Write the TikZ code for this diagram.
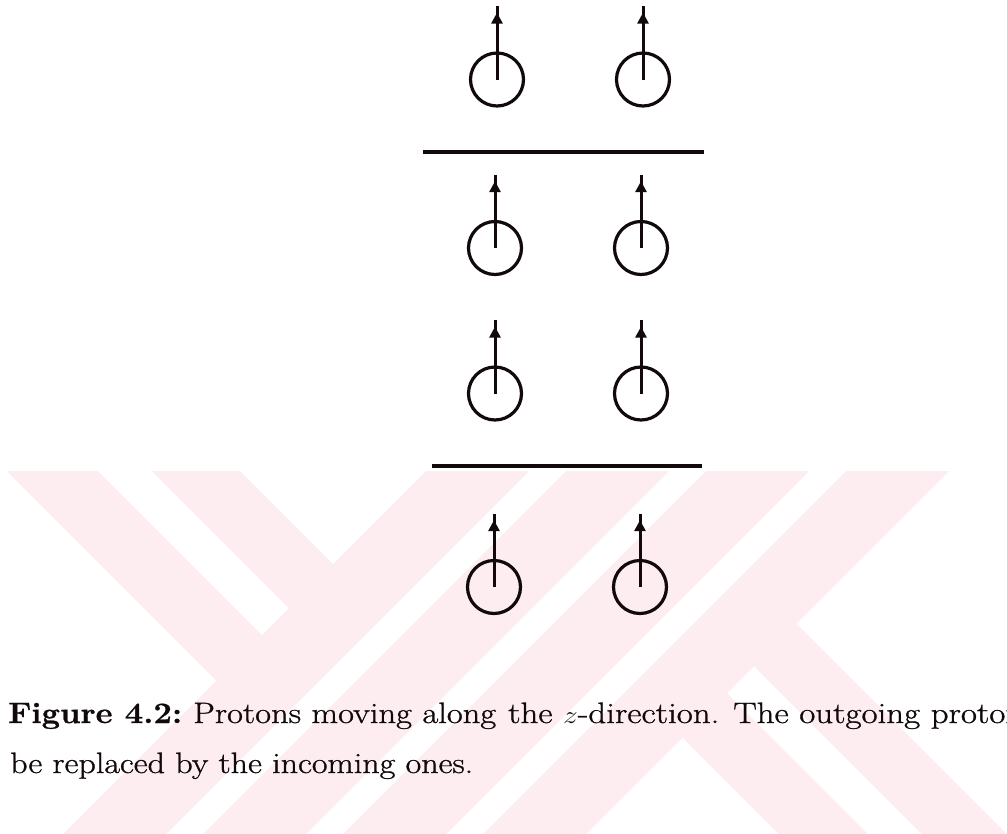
\documentclass[tikz,border=0pt]{standalone}
\usepackage{fontspec}
\setmainfont{Latin Modern Roman}[FakeBold=0.9]
\usetikzlibrary{arrows.meta,decorations.markings}
\definecolor{wmpink}{RGB}{253,237,241}
\definecolor{ink}{RGB}{18,10,10}
\tikzset{
  proton/.style={circle,draw=ink,line width=3.2pt,minimum size=53pt,inner sep=0pt},
  spin/.style={draw=ink,line width=3pt,postaction={decorate},
    decoration={markings,mark=at position 0.91 with {\arrow{Triangle[length=11pt,width=11pt]}}}},
  divider/.style={draw=ink,line width=3.6pt},
  wmband/.style={fill=wmpink},
  captext/.style={anchor=base west,inner sep=0pt,font=\fontsize{29.5}{35}\selectfont,text=ink}
}
\begin{document}
\begin{tikzpicture}[x=1pt,y=-1pt,color=ink]
\useasboundingbox (0,0) rectangle (1007,833);
\fill[white] (0,0) rectangle (1007,833);

% background emblem bands, visible below the figure area only
\begin{scope}
  \clip (0,471.5) rectangle (1007,833);
  % rising bands
  \fill[wmband] (497,400) -- (600,400) -- (100,900) -- (-3,900) -- cycle;
  \fill[wmband] (637,400) -- (740,400) -- (240,900) -- (137,900) -- cycle;
  \fill[wmband] (777,400) -- (880,400) -- (380,900) -- (277,900) -- cycle;
  \fill[wmband] (917,400) -- (1020,400) -- (520,900) -- (417,900) -- cycle;
  % falling bands, upper left
  \fill[wmband] (-64,400) -- (27,400) -- (262,635) -- (216.5,680.5) -- cycle;
  \fill[wmband] (81,400) -- (169,400) -- (333,564) -- (289,608) -- cycle;
  % falling bands, lower right
  \fill[wmband] (682.5,737.5) -- (727,693) -- (934,900) -- (845,900) -- cycle;
  \fill[wmband] (754,666) -- (796.5,623.5) -- (1073,900) -- (988,900) -- cycle;
\end{scope}

% protons, four rows of two
\node[proton] (a1) at (497,79.5) {};
\node[proton] (b1) at (643,79.5) {};
\node[proton] (a2) at (495,248) {};
\node[proton] (b2) at (641,248) {};
\node[proton] (a3) at (495,393.5) {};
\node[proton] (b3) at (641,393.5) {};
\node[proton] (a4) at (494,587) {};
\node[proton] (b4) at (640,587) {};

% spin tips
\coordinate (ta1) at (497,6);
\coordinate (tb1) at (643,6);
\coordinate (ta2) at (495,174.5);
\coordinate (tb2) at (641,174.5);
\coordinate (ta3) at (495,320);
\coordinate (tb3) at (641,320);
\coordinate (ta4) at (494,513.5);
\coordinate (tb4) at (640,513.5);

\foreach \r in {1,2,3,4}{
  \draw[spin] (a\r.center) -- (ta\r);
  \draw[spin] (b\r.center) -- (tb\r);
}

% dividing lines
\coordinate (l1w) at (423,152);
\coordinate (l1e) at (704,152);
\coordinate (l2w) at (432,466);
\coordinate (l2e) at (702,466);
\draw[divider] (l1w) -- (l1e);
\draw[divider] (l2w) -- (l2e);

% caption
\begin{scope}
  \clip (0,0) rectangle (1007,833);
  \node[captext] (capl) at (8,723) {\resizebox{174pt}{\height}{\textbf{Figure 4.2:}}};
  \node[captext] (capa) at (193,723) {\resizebox{303pt}{\height}{Protons moving along}};
  \node[captext] (capb) at (508,723) {\resizebox{515pt}{\height}{the $z$-direction. The outgoing proton}};
  \node[captext] (capc) at (10,773) {\resizebox{463pt}{\height}{be replaced by the incoming ones.}};
\end{scope}
\end{tikzpicture}
\end{document}
